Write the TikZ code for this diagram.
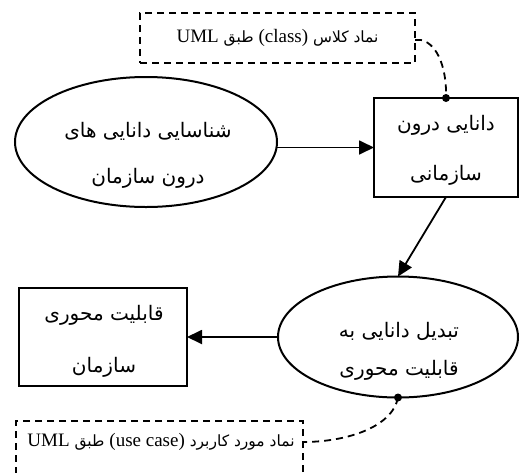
\documentclass[tikz,border=0pt]{standalone}
\usepackage{fontspec}
\setmainfont{Liberation Serif}
\newfontfamily\arabicfont[Script=Arabic]{DejaVu Sans}
\newfontfamily\latinfont{Liberation Serif}
\TeXXeTstate=1
\usetikzlibrary{shapes.geometric,arrows.meta,calc}
% Latin words inside the Persian notes
\newcommand\latword[1]{{\latinfont\fontsize{19}{22}\selectfont #1}}

\begin{document}
\begin{tikzpicture}[x=1pt,y=-1pt,
  shapeline/.style={draw, line width=2pt, inner sep=0pt, outer sep=0pt},
  ellnode/.style={shapeline, ellipse},
  boxnode/.style={shapeline, rectangle},
  notebox/.style={draw, line width=1.8pt, dash pattern=on 7pt off 5pt, rectangle, inner sep=0pt, outer sep=0pt},
  txt/.style={align=center, inner sep=0pt},
  flow/.style={line width=1.8pt, -{Triangle[length=15pt,width=14pt]}},
  anchorline/.style={line width=1.8pt, dash pattern=on 7pt off 5pt},
  joint/.style={fill=black}
]
\useasboundingbox (0,0) rectangle (525,472);
\fill[white] (0,0) rectangle (525,472);
\clip (0,0) rectangle (525,472);

% main shapes
\node[ellnode, minimum width=262pt, minimum height=130pt] (e1) at (146,142) {};
\node[boxnode, minimum width=144pt, minimum height=99pt] (b1) at (446,147.5) {};
\node[ellnode, minimum width=240pt, minimum height=121pt] (e2) at (398,337) {};
\node[boxnode, minimum width=168pt, minimum height=98pt] (b2) at (103,337) {};

% labels of the main shapes
\node[txt, font=\arabicfont\fontsize{20}{46}\selectfont] (e1t) at (148,155)
  {\beginR شناسایی دانایی های\endR\\\beginR درون سازمان\endR};
\node[txt, font=\arabicfont\fontsize{20}{50}\selectfont] (b1t) at (446,150)
  {\beginR دانایی درون\endR\\\beginR سازمانی\endR};
\node[txt, font=\arabicfont\fontsize{20}{38}\selectfont] (e2t) at (399,351)
  {\beginR تبدیل دانایی به\endR\\\beginR قابلیت محوری\endR};
\node[txt, font=\arabicfont\fontsize{20}{52}\selectfont] (b2t) at (104,341)
  {\beginR قابلیت محوری\endR\\\beginR سازمان\endR};

% dashed notes
\node[notebox, minimum width=275pt, minimum height=50pt] (n1) at (277.5,38) {};
\node[txt, font=\arabicfont\fontsize{15.5}{18}\selectfont] (n1t) at (277.5,38)
  {\beginR نماد کلاس \beginL\latword{(class)}\endL{} طبق \beginL\latword{UML}\endL\endR};
\node[notebox, minimum width=287pt, minimum height=76pt] (n2) at (159.5,459) {};
\node[txt, font=\arabicfont\fontsize{15.5}{18}\selectfont] (n2t) at (161,442)
  {\beginR نماد مورد کاربرد \beginL\latword{(use case)}\endL{} طبق \beginL\latword{UML}\endL\endR};
\coordinate (n1hook) at ($(n1.east)+(0,2)$);
\coordinate (n2hook) at (n2.east |- n2t);

% flow arrows
\draw[flow] (e1.east |- b1.west) -- (b1.west);
\draw[flow] (b1.south) -- (e2.north);
\draw[flow] (e2.west) -- (b2.east);

% note anchors
\draw[anchorline] (n1hook) -- ++(6,0) .. controls +(18,4) and (447,72) .. (b1.north);
\draw[anchorline] (e2.south) .. controls (392,428) and (345,442) .. (n2hook);
\fill[joint] (b1.north) circle (4pt);
\fill[joint] (e2.south) circle (4pt);
\end{tikzpicture}
\end{document}
